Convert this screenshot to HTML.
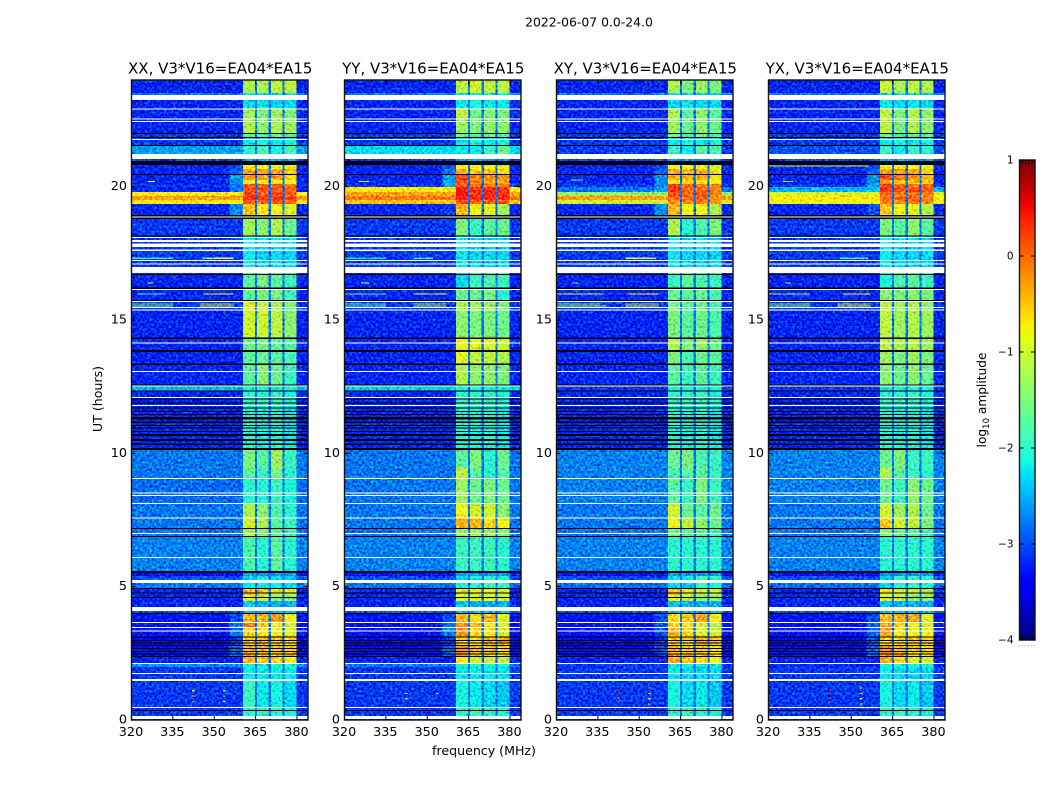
<!DOCTYPE html>
<html lang="en">
<head>
<meta charset="utf-8">
<title>2022-06-07 0.0-24.0</title>
<style>
html,body{margin:0;padding:0;background:#fff;width:1050px;height:800px;overflow:hidden}
svg{display:block}
text{font-family:"DejaVu Sans","Liberation Sans",sans-serif;fill:#000}
</style>
</head>
<body>
<svg id="fig" width="1050" height="800" viewBox="0 0 1050 800" xmlns="http://www.w3.org/2000/svg">
  <defs>
    <filter id="speckle" x="0" y="0" width="100%" height="100%" color-interpolation-filters="sRGB">
      <feTurbulence type="fractalNoise" baseFrequency="0.42" numOctaves="1" seed="7" result="n"/>
      <feColorMatrix in="n" type="matrix" values="0 0 0 0 0.5  1 0 0 0 0  0 1 0 0 0  0 0 0 0 1" result="m"/>
      <feComposite in="SourceGraphic" in2="m" operator="arithmetic" k1="0" k2="1" k3="1.3" k4="-0.65"/>
    </filter>
    <linearGradient id="jet-gradient" x1="0" y1="1" x2="0" y2="0"></linearGradient>
  </defs>
  <text x="589" y="26.5" text-anchor="middle" font-size="12.4">2022-06-07 0.0-24.0</text>
  <text x="484" y="755" text-anchor="middle" font-size="12.6">frequency (MHz)</text>
  <text transform="translate(102,399) rotate(-90)" text-anchor="middle" font-size="12.6">UT (hours)</text>
  <text transform="translate(986,400) rotate(-90)" text-anchor="middle" font-size="12.2">log<tspan font-size="8.5" dy="3">10</tspan><tspan dy="-3"> amplitude</tspan></text>
</svg>
<script>
// ---- Chart data (log10 amplitude) ----
const panelTitles = ["XX, V3*V16=EA04*EA15", "YY, V3*V16=EA04*EA15", "XY, V3*V16=EA04*EA15", "YX, V3*V16=EA04*EA15"];
const xTickValues = [320, 335, 350, 365, 380];
const yTickValues = [0, 5, 10, 15, 20];
const colorbarTicks = [1, 0, -1, -2, -3, -4];

// UT hour edges of the data rows, from the top of the plot downward
const utEdges = [24,23.51,23.25,22.95,22.58,22.01,21.86,21.53,21.23,20.96,20.66,20.44,20.25,20.10,19.99,19.80,19.65,19.50,19.35,18.94,18.79,18.15,16.76,16.24,15.68,15.34,14.36,13.88,13.35,12.53,12.34,12.11,11.81,10.13,9.45,9.08,8.14,7.58,7.20,6.90,5.59,5.40,5.14,4.95,4.69,4.46,4.09,3.98,3.64,3.45,3.15,2.81,2.36,2.10,1.99,1.46,0.45,0];

// Frequency edges (MHz): background, shoulder, sub-band 1, gap, 2, gap, 3, gap, 4, upper background
const freqEdges = [320,355.5,360.4,364.7,365.5,369.7,370.5,374.8,375.5,379.9,384];
// Which value in a row each frequency column reads: 0 bg, 1 shoulder, 2-5 sub-bands, 6 gap level
const freqColumnSource = [0,1,2,6,3,6,4,6,5,0];
const gapLevels = [-2.8,-2.8,-2.8,-2.8];

// Rows: [background, shoulder, band1, band2, band3, band4]
const ampXX = [
[-3.2,-3.2,-1.2,-1.2,-1.1,-1.1],[-2.8,-2.8,-2.3,-2.3,-2.3,-2.3],[-3.2,-3.2,-2.3,-2.2,-2.3,-2.3],[-3.2,-3.2,-1.3,-1.5,-1.3,-1.5],[-3.2,-3.2,-1.2,-1.4,-1.2,-1.3],[-3.1,-3.1,-1.6,-1.8,-1.6,-1.8],[-3.1,-3.1,-2.2,-2.1,-2.2,-2.1],[-2.6,-2.6,-2.0,-1.8,-2.1,-1.8],[-3.1,-3.1,-2.6,-2.6,-2.6,-2.6],[-3.2,-3.0,-0.8,-0.8,-0.8,-0.9],
[-3.2,-2.9,-0.3,-0.3,-0.3,-0.5],[-3.2,-2.6,-0.3,-0.3,-0.3,-0.6],[-3.2,-2.7,-0.7,-0.7,-0.7,-0.8],[-3.1,-2.8,0.1,0.1,0.1,-0.1],[-3.2,-2.8,0.1,0.1,0.1,0],[-0.7,-0.7,0.2,0.1,0.2,0.1],[-0.3,-0.3,0.3,0.2,0.3,0.2],[-0.7,-0.7,0.1,0,0.1,0],[-3.2,-2.7,-0.5,-0.7,-0.8,-0.9],[-3.2,-3.2,-1.3,-1.4,-1.2,-1.6],
[-3.1,-3.1,-1.3,-1.4,-1.2,-1.6],[-3.1,-3.1,-2.2,-2.3,-2.3,-2.3],[-3.2,-3.2,-1.7,-1.5,-1.7,-1.9],[-3.2,-3.2,-1.7,-1.5,-1.5,-1.9],[-3.1,-3.1,-0.9,-1.0,-1.2,-1.5],[-3.2,-3.2,-1.0,-1.0,-1.1,-1.4],[-3.2,-3.2,-1.6,-1.5,-1.6,-1.7],[-3.2,-3.2,-1.7,-1.6,-1.7,-1.8],[-3.2,-3.2,-1.7,-1.4,-1.6,-1.9],[-2.5,-2.5,-2.1,-2.1,-2.1,-2.1],
[-3.2,-3.2,-2.0,-2.0,-1.9,-2.1],[-3.2,-3.2,-1.9,-1.9,-1.9,-2.0],[-3.2,-3.2,-2.0,-2.1,-2.0,-2.2],[-2.8,-2.8,-1.5,-1.7,-1.3,-1.9],[-2.8,-2.8,-1.7,-1.9,-1.5,-2.0],[-2.85,-2.85,-2.0,-2.0,-1.9,-2.1],[-2.8,-2.8,-1.2,-1.4,-1.8,-2.0],[-2.8,-2.8,-1.0,-1.2,-1.7,-1.9],[-2.8,-2.8,-1.2,-1.4,-1.7,-1.9],[-2.75,-2.75,-1.8,-2.0,-1.7,-2.0],
[-3.3,-3.3,-2.6,-2.6,-2.6,-2.6],[-3.0,-3.0,-2.3,-2.1,-2.3,-2.4],[-2.8,-2.8,-2.2,-2.2,-2.2,-2.3],[-3.2,-3.2,-0.5,-0.5,-0.9,-1.0],[-3.2,-3.2,-0.9,-1.0,-1.4,-1.4],[-3.2,-3.2,-2.4,-2.5,-2.5,-2.5],[-3.0,-3.0,-2.5,-2.5,-2.5,-2.5],[-3.3,-3.0,-0.4,-0.4,-0.3,-0.8],[-3.3,-2.8,-0.1,-0.5,-0.7,-1.0],[-3.3,-2.8,-0.6,-0.7,-0.8,-0.9],
[-3.4,-3.1,-0.5,-0.4,-0.5,-0.6],[-3.4,-2.9,-0.4,-0.4,-0.5,-0.5],[-3.2,-3.2,-0.4,-0.5,-0.6,-0.8],[-2.7,-2.7,-2.1,-2.1,-2.1,-2.1],[-3.1,-3.1,-2.2,-2.2,-2.2,-2.2],[-3.1,-3.1,-1.9,-2.2,-2.1,-2.3],[-3.1,-3.1,-2.0,-1.9,-2.0,-2.1]
];
const ampYY = [
[-3.2,-3.2,-1.1,-1.0,-1.1,-1.1],[-2.8,-2.8,-2.2,-2.2,-2.2,-2.2],[-3.2,-3.2,-2.2,-2.1,-2.2,-2.2],[-3.2,-3.2,-1.1,-1.6,-1.5,-1.5],[-3.2,-3.2,-1.3,-1.5,-1.4,-1.4],[-3.1,-3.1,-1.6,-1.8,-1.6,-1.8],[-3.1,-3.1,-2.2,-2.1,-2.2,-2.1],[-2.3,-2.3,-2.2,-2.2,-1.9,-1.6],[-3.1,-3.1,-2.6,-2.6,-2.6,-2.6],[-3.2,-3.0,-0.8,-0.8,-0.8,-0.9],
[-3.2,-2.8,-0.4,-0.5,-0.5,-0.6],[-3.2,-2.6,0.2,-0.1,-0.2,-0.2],[-3.2,-2.6,0.1,-0.2,-0.3,-0.3],[-3.1,-2.6,0.1,0,-0.1,-0.1],[-0.7,-0.7,0.4,0.3,0.3,0.3],[-0.3,-0.3,0.5,0.3,0.4,0.3],[-0.1,-0.1,0.4,0.3,0.3,0.3],[-0.5,-0.5,0.2,0.1,0.1,0.1],[-3.2,-3.1,-0.4,-0.8,-0.9,-1.3],[-3.2,-3.2,-1.5,-1.9,-1.7,-1.6],
[-3.1,-3.1,-1.5,-1.9,-1.7,-1.6],[-3.1,-3.1,-2.2,-2.3,-2.3,-2.3],[-3.2,-3.2,-2.3,-1.9,-1.8,-1.9],[-3.2,-3.2,-1.6,-1.6,-1.5,-2.0],[-3.1,-3.1,-1.2,-1.3,-1.3,-1.5],[-3.2,-3.2,-1.4,-1.5,-1.5,-1.6],[-3.2,-3.2,-0.8,-0.9,-0.9,-1.0],[-3.2,-3.2,-0.9,-1.1,-1.1,-1.2],[-3.2,-3.2,-1.2,-1.4,-1.4,-1.5],[-2.4,-2.4,-2.1,-2.1,-2.1,-2.1],
[-3.2,-3.2,-2.0,-2.0,-1.9,-2.1],[-3.2,-3.2,-1.9,-1.9,-1.9,-2.0],[-3.2,-3.2,-2.0,-2.1,-2.0,-2.2],[-2.8,-2.8,-1.7,-1.5,-2.0,-1.6],[-2.8,-2.8,-1.1,-1.7,-2.0,-1.7],[-2.8,-2.8,-1.3,-1.6,-1.5,-1.6],[-2.8,-2.8,-0.8,-1.0,-1.0,-1.4],[-2.8,-2.8,-0.4,-0.4,-0.6,-0.8],[-2.8,-2.8,-1.3,-1.3,-1.3,-1.4],[-2.75,-2.75,-1.9,-1.9,-1.9,-2.0],
[-3.3,-3.3,-2.6,-2.6,-2.6,-2.6],[-3.0,-3.0,-2.3,-2.1,-2.0,-2.1],[-2.8,-2.8,-2.0,-2.0,-1.8,-1.9],[-3.2,-3.2,-0.9,-0.9,-0.9,-1.0],[-3.2,-3.2,-0.9,-0.9,-0.9,-1.0],[-3.2,-3.2,-2.4,-2.5,-2.5,-2.5],[-3.0,-3.0,-2.5,-2.5,-2.5,-2.5],[-3.3,-3.0,-0.4,-0.6,-0.4,-0.9],[-3.3,-2.8,-0.2,-0.5,-0.7,-0.9],[-3.3,-2.8,-0.2,-0.6,-0.8,-1.0],
[-3.4,-3.1,-0.6,-0.7,-0.4,-0.4],[-3.4,-2.9,-0.2,-0.4,-0.5,-0.6],[-3.2,-3.2,-0.7,-1.0,-1.0,-1.1],[-2.8,-2.8,-2.1,-2.1,-2.1,-2.1],[-3.1,-3.1,-2.2,-2.2,-2.2,-2.2],[-3.1,-3.1,-2.1,-2.2,-2.3,-2.4],[-3.1,-3.1,-2.0,-1.9,-2.0,-2.1]
];
const ampXY = [
[-3.2,-3.2,-1.2,-1.5,-1.3,-1.5],[-2.8,-2.8,-2.3,-2.3,-2.3,-2.3],[-3.2,-3.2,-2.3,-2.2,-2.3,-2.3],[-3.2,-3.2,-1.2,-1.7,-1.4,-1.7],[-3.2,-3.2,-1.3,-1.6,-1.4,-1.6],[-3.1,-3.1,-1.6,-1.8,-1.6,-1.8],[-3.1,-3.1,-2.2,-2.1,-2.2,-2.1],[-3.1,-3.1,-1.9,-2.2,-1.7,-1.8],[-3.1,-3.1,-2.6,-2.6,-2.6,-2.6],[-3.2,-3.0,-0.8,-0.8,-0.8,-1.0],
[-3.2,-2.9,-0.3,-0.4,-0.4,-0.6],[-3.2,-2.7,-0.4,-0.4,-0.4,-0.7],[-3.2,-2.7,-0.7,-0.6,-0.6,-0.8],[-3.1,-2.7,0.2,0,-0.1,-0.1],[-2.8,-2.6,0.3,0,0,-0.1],[-1.3,-1.3,0.2,0,0.1,-0.2],[-0.3,-0.3,0,0,0.05,-0.2],[-1.0,-1.0,-0.2,-0.2,-0.1,-0.2],[-3.2,-2.7,-0.4,-0.8,-0.8,-1.2],[-3.2,-3.2,-1.2,-2.0,-1.8,-1.5],
[-3.1,-3.1,-1.2,-2.0,-1.8,-1.5],[-3.1,-3.1,-2.2,-2.3,-2.3,-2.3],[-3.2,-3.2,-1.9,-1.7,-1.8,-1.9],[-3.2,-3.2,-1.6,-1.7,-1.6,-1.8],[-3.1,-3.1,-1.5,-1.7,-1.6,-1.8],[-3.2,-3.2,-1.5,-1.7,-1.6,-1.8],[-3.2,-3.2,-1.2,-1.5,-1.3,-1.6],[-3.2,-3.2,-1.5,-1.8,-1.6,-1.7],[-3.2,-3.2,-1.7,-1.9,-1.7,-1.9],[-3.1,-3.1,-2.1,-2.1,-2.1,-2.1],
[-3.2,-3.2,-2.0,-2.0,-1.9,-2.1],[-3.2,-3.2,-1.9,-1.9,-1.9,-2.0],[-3.2,-3.2,-2.0,-2.1,-2.0,-2.2],[-2.75,-2.75,-1.6,-1.5,-1.8,-1.9],[-2.75,-2.75,-1.8,-1.7,-1.7,-1.9],[-2.75,-2.75,-1.7,-1.9,-1.5,-1.9],[-2.8,-2.8,-1.0,-1.6,-1.7,-1.6],[-2.8,-2.8,-0.8,-1.1,-1.4,-1.6],[-2.8,-2.8,-1.5,-1.7,-1.7,-1.9],[-2.75,-2.75,-2.0,-2.0,-2.0,-2.0],
[-3.3,-3.3,-2.6,-2.6,-2.6,-2.6],[-3.0,-3.0,-2.3,-2.2,-1.8,-2.0],[-2.85,-2.85,-2.3,-2.4,-1.9,-2.1],[-3.2,-3.2,-0.5,-0.9,-1.0,-1.0],[-3.2,-3.2,-0.9,-1.1,-1.4,-1.4],[-3.2,-3.2,-2.4,-2.5,-2.5,-2.5],[-3.0,-3.0,-2.5,-2.5,-2.5,-2.5],[-3.3,-3.0,-0.6,-0.5,-0.3,-0.7],[-3.3,-3.0,-0.6,-0.7,-0.9,-1.1],[-3.3,-3.0,-0.4,-0.6,-0.9,-1.0],
[-3.4,-3.1,-0.6,-0.6,-0.4,-0.5],[-3.4,-3.0,-0.4,-0.5,-0.5,-0.7],[-3.2,-3.2,-0.3,-0.5,-0.6,-0.8],[-3.1,-3.1,-2.2,-2.2,-2.2,-2.2],[-3.1,-3.1,-2.2,-2.3,-2.3,-2.3],[-3.1,-3.1,-2.1,-2.3,-2.2,-2.4],[-3.1,-3.1,-2.0,-1.9,-2.0,-2.1]
];
const ampYX = [
[-3.2,-3.2,-1.0,-1.2,-1.1,-1.2],[-2.8,-2.8,-2.3,-2.3,-2.3,-2.3],[-3.2,-3.2,-2.2,-2.3,-2.2,-2.3],[-3.2,-3.2,-1.1,-1.5,-1.2,-1.4],[-3.2,-3.2,-1.1,-1.5,-1.2,-1.4],[-3.1,-3.1,-1.6,-1.8,-1.6,-1.8],[-3.1,-3.1,-2.2,-2.1,-2.2,-2.1],[-3.0,-3.0,-1.9,-2.2,-1.9,-2.0],[-3.1,-3.1,-2.6,-2.6,-2.6,-2.6],[-3.2,-3.0,-0.8,-0.8,-0.8,-0.9],
[-3.2,-2.9,-0.3,-0.3,-0.3,-0.6],[-3.2,-2.7,0.1,-0.1,-0.2,-0.4],[-3.2,-2.7,-0.3,-0.5,-0.5,-0.6],[-3.1,-2.6,0.2,0,0,0],[-2.5,-2.4,0.3,0.1,0.1,0.1],[-0.9,-0.9,0,-0.1,0,-0.1],[-0.7,-0.7,0,0,0,-0.1],[-0.8,-0.8,-0.1,-0.2,-0.1,-0.2],[-3.2,-3.0,-0.5,-0.8,-0.9,-1.2],[-3.2,-3.2,-1.5,-1.7,-1.4,-1.7],
[-3.1,-3.1,-1.5,-1.7,-1.4,-1.7],[-3.1,-3.1,-2.2,-2.3,-2.3,-2.3],[-3.2,-3.2,-2.1,-1.8,-1.7,-1.9],[-3.2,-3.2,-1.4,-1.5,-1.4,-1.5],[-3.1,-3.1,-1.1,-1.3,-1.2,-1.4],[-3.2,-3.2,-1.1,-1.3,-1.2,-1.3],[-3.2,-3.2,-1.1,-1.2,-1.1,-1.3],[-3.2,-3.2,-1.3,-1.5,-1.3,-1.5],[-3.2,-3.2,-1.4,-1.6,-1.4,-1.6],[-3.1,-3.1,-2.1,-2.1,-2.1,-2.1],
[-3.2,-3.2,-2.0,-2.0,-1.9,-2.1],[-3.2,-3.2,-1.9,-1.9,-1.9,-2.0],[-3.2,-3.2,-2.0,-2.1,-2.0,-2.2],[-2.75,-2.75,-1.6,-1.5,-1.9,-1.9],[-2.75,-2.75,-1.2,-1.7,-1.9,-2.0],[-2.75,-2.75,-1.6,-1.9,-1.4,-1.6],[-2.8,-2.8,-1.0,-1.3,-1.2,-1.6],[-2.8,-2.8,-0.5,-1.0,-1.1,-1.5],[-2.8,-2.8,-1.4,-1.6,-1.7,-1.9],[-2.75,-2.75,-2.0,-2.0,-2.0,-2.0],
[-3.3,-3.3,-2.6,-2.6,-2.6,-2.6],[-3.0,-3.0,-2.4,-2.0,-1.9,-2.0],[-2.85,-2.85,-2.4,-2.0,-1.9,-2.0],[-3.2,-3.2,-0.8,-1.0,-1.1,-1.2],[-3.2,-3.2,-0.9,-1.0,-1.4,-1.4],[-3.2,-3.2,-2.4,-2.5,-2.5,-2.5],[-3.0,-3.0,-2.5,-2.5,-2.5,-2.5],[-3.3,-3.0,-0.5,-0.4,-0.3,-0.9],[-3.3,-2.9,-0.3,-0.6,-0.8,-1.0],[-3.3,-2.9,-0.3,-0.7,-0.8,-0.8],
[-3.4,-3.0,-0.6,-0.6,-0.5,-0.6],[-3.4,-2.9,-0.2,-0.4,-0.5,-0.6],[-3.2,-3.2,-0.4,-0.6,-0.9,-1.0],[-3.2,-3.2,-2.1,-2.1,-2.1,-2.1],[-3.1,-3.1,-2.2,-2.3,-2.3,-2.3],[-3.1,-3.1,-2.1,-2.3,-2.2,-2.4],[-3.1,-3.1,-2.0,-1.9,-2.0,-2.1]
];
const panelAmps = [ampXX, ampYY, ampXY, ampYX];

// Narrow RFI features: [startMHz, endMHz, UT hour, log10 amplitude]
const rfiXX = [[326,328.5,20.2,-0.8],[320,335,17.32,-2.0],[346,350,17.32,-1.4],[350,357,17.32,-0.8],[326,328,16.39,-0.8],[322,332,15.98,-2.0],[346,357,15.98,-0.8],[320,335,15.6,-2.0],[320,335,15.53,-1.2],[345,357,15.6,-1.3],[345,357,15.53,-0.6],[353,353.8,23.75,0.5],[353,353.8,23.6,0.6],[342,342.8,1.1,-0.6],[342,342.8,0.9,-0.5],[342,342.8,0.7,-0.4],[353.2,354,1.1,-1.2],[353.2,354,0.9,-0.5],[353.2,354,0.7,-0.8]];
const rfiYY = [[325,329,20.2,-1.1],[320,335,17.32,-2.2],[345,352,17.32,-1.9],[326,329,16.39,-1.0],[320,335,15.98,-1.6],[345,357,15.98,-0.8],[320,335,15.6,-2.0],[320,335,15.53,-1.6],[345,357,15.6,-1.5],[345,357,15.53,-1.0],[342,342.8,1.0,-1.2],[342,342.8,0.8,-1.0],[353.2,354,1.0,-1.5]];
const rfiXY = [[325,329.5,20.25,-1.3],[320,337,15.98,-1.0],[346,357,15.98,-0.7],[326,328,16.39,-1.0],[320,336,15.6,-1.8],[320,338,15.53,-1.0],[345,357,15.6,-1.5],[345,357,15.53,-0.7],[345,356,17.32,-0.9],[353,353.8,23.7,0.4],[342,342.8,1.15,0.2],[342,342.8,1.0,0.4],[342,342.8,0.85,0.2],[342,342.8,0.7,0.3],[353.2,354,1.2,-0.6],[353.2,354,1.0,-0.6],[353.2,354,0.8,-0.8],[353.2,354,0.6,-0.6]];
const rfiYX = [[325,329,20.2,-1.0],[320,356,20.78,-1.2],[320,335,15.98,-1.4],[347,357,15.98,-0.7],[326,328,16.39,-1.0],[320,335,15.6,-1.8],[320,335,15.53,-1.2],[345,357,15.6,-1.3],[345,357,15.53,-0.7],[346,356,17.32,-1.9],[353,353.8,23.7,0.4],[342,342.8,1.15,0.3],[342,342.8,1.0,0.5],[342,342.8,0.85,0.5],[342,342.8,0.7,0.2],[353.2,354,1.2,-0.9],[353.2,354,1.0,-0.5],[353.2,354,0.8,-0.7],[353.2,354,0.6,-1.0]];
const panelRfi = [rfiXX, rfiYY, rfiXY, rfiYX];

// Flagged time ranges, [startUT, endUT]; these are common to all four panels
const flaggedWhite = [[23.25,23.44],[22.90,22.94],[22.52,22.56],[22.42,22.46],[21.75,21.79],[21.04,21.23],[18.84,18.88],[18.08,18.11],[17.93,18.00],[17.74,17.87],[17.59,17.64],[17.21,17.25],[17.08,17.12],[16.76,16.99],[16.13,16.16],[15.68,15.71],[15.45,15.49],[15.36,15.39],[14.13,14.16],[13.05,13.09],[12.51,12.54],[12.08,12.11],[11.78,11.81],[9.04,9.08],[8.49,8.53],[8.40,8.44],[8.10,8.14],[7.56,7.59],[6.98,7.01],[6.08,6.11],[5.14,5.25],[4.09,4.24],[3.64,3.68],[3.45,3.49],[3.32,3.36],[2.10,2.14],[1.73,1.76],[1.46,1.53],[0.45,0.49],[0.04,0.15]];
const flaggedBlack = [[21.98,22.01],[21.83,21.86],[21.53,21.56],[20.81,20.96],[20.44,20.48],[18.88,18.94],[18.79,18.84],[18.13,18.17],[16.69,16.73],[16.16,16.22],[15.71,15.75],[14.29,14.34],[13.80,13.88],[13.31,13.37],[12.54,12.58],[12.32,12.36],[12.02,12.06],[11.87,11.91],[11.68,11.72],[11.55,11.59],[11.44,11.48],[11.27,11.36],[11.14,11.19],[11.03,11.06],[10.93,10.97],[10.80,10.84],[10.65,10.73],[10.46,10.54],[10.31,10.37],[10.13,10.20],[7.16,7.20],[6.86,6.90],[5.51,5.59],[4.91,4.95],[4.74,4.78],[4.58,4.61],[3.98,4.01],[3.09,3.13],[2.96,3.00],[2.87,2.91],[2.78,2.81],[2.66,2.70],[2.55,2.59],[2.46,2.49],[2.36,2.40],[0.34,0.38]];

// ---- Layout and scales ----
const SVGNS = "http://www.w3.org/2000/svg";
const fig = document.getElementById("fig");
const panelLefts = [131.5, 344.5, 556.5, 768.5];
const panelWidth = 176.5;
const plotTop = 80, plotBottom = 720;
const freqMin = 320, freqMax = 384, utMax = 24;
const cbarLeft = 1019.5, cbarRight = 1035, cbarTop = 160, cbarBottom = 640;
const cbarMin = -4, cbarMax = 1;

function xScale(panelIndex, mhz) { return panelLefts[panelIndex] + (mhz - freqMin) / (freqMax - freqMin) * panelWidth; }
function yScale(ut) { return plotBottom - ut / utMax * (plotBottom - plotTop); }
function cbarScale(v) { return cbarBottom - (v - cbarMin) / (cbarMax - cbarMin) * (cbarBottom - cbarTop); }

function ramp(pts, t) {
  if (t <= pts[0][0]) return pts[0][1];
  for (let i = 1; i < pts.length; i++) {
    if (t <= pts[i][0]) {
      const a = pts[i - 1], b = pts[i];
      return a[1] + (b[1] - a[1]) * (t - a[0]) / (b[0] - a[0]);
    }
  }
  return pts[pts.length - 1][1];
}
const jetR = [[0,0],[0.35,0],[0.66,1],[0.89,1],[1,0.5]];
const jetG = [[0,0],[0.125,0],[0.375,1],[0.64,1],[0.91,0],[1,0]];
const jetB = [[0,0.5],[0.11,1],[0.34,1],[0.65,0],[1,0]];
function jet(t) {
  const c = v => Math.round(255 * v);
  return "rgb(" + c(ramp(jetR, t)) + "," + c(ramp(jetG, t)) + "," + c(ramp(jetB, t)) + ")";
}
function colorOf(v) { return jet((v - cbarMin) / (cbarMax - cbarMin)); }

function mk(tag, attrs, parent) {
  const el = document.createElementNS(SVGNS, tag);
  for (const k in attrs) el.setAttribute(k, attrs[k]);
  (parent || fig).appendChild(el);
  return el;
}

// ---- Panels ----
panelTitles.forEach(function (title, p) {
  const left = panelLefts[p], right = left + panelWidth;
  const panel = mk("g", {});
  
  

  const titleEl = mk("text", { x: (left + right) / 2 + 0.5, y: 73.5, "text-anchor": "middle", "font-size": 15 }, panel);
  titleEl.textContent = title;
  
  

  const heat = mk("g", { filter: "url(#speckle)", "shape-rendering": "crispEdges" }, panel);
  
  

  panelAmps[p].forEach(function (row, r) {
    const yA = yScale(utEdges[r]), yB = yScale(utEdges[r + 1]);
    freqColumnSource.forEach(function (src, c) {
      const xA = xScale(p, freqEdges[c]), xB = xScale(p, freqEdges[c + 1]);
      const value = src === 6 ? gapLevels[p] : row[src];
      const cell = mk("rect", { x: xA, y: yA, width: xB - xA, height: yB - yA, fill: colorOf(value) }, heat);
      
      
    });
  });

  panelRfi[p].forEach(function (s) {
    const xA = xScale(p, s[0]), xB = xScale(p, s[1]);
    const speck = mk("rect", { x: xA, y: yScale(s[2]) - 0.5, width: xB - xA, height: 1.2, fill: colorOf(s[3]) }, heat);
    
    
  });

  const flags = mk("g", { "shape-rendering": "crispEdges" }, panel);
  
  
  flaggedWhite.forEach(function (f) {
    const yA = yScale(f[1]), yB = yScale(f[0]);
    const bar = mk("rect", { x: left, y: yA, width: panelWidth, height: Math.max(1, yB - yA), fill: "#fff" }, flags);
    
    
  });
  flaggedBlack.forEach(function (f) {
    const yA = yScale(f[1]), yB = yScale(f[0]);
    const bar = mk("rect", { x: left, y: yA, width: panelWidth, height: Math.max(1, yB - yA), fill: "#000" }, flags);
    
    
  });

  const frame = mk("rect", { x: left, y: plotTop, width: panelWidth, height: plotBottom - plotTop, fill: "none", stroke: "#111", "stroke-width": 1.4 }, panel);
  
  

  xTickValues.forEach(function (v) {
    const x = xScale(p, v);
    const tickB = mk("line", { x1: x, x2: x, y1: plotBottom, y2: plotBottom - 4, stroke: "#000", "stroke-width": 1 }, panel);
    
    
    const tickT = mk("line", { x1: x, x2: x, y1: plotTop, y2: plotTop + 4, stroke: "#000", "stroke-width": 1 }, panel);
    
    
    const label = mk("text", { x: x - 0.5, y: 736, "text-anchor": "middle", "font-size": 12.8 }, panel);
    label.textContent = v;
    
    
  });
  yTickValues.forEach(function (v) {
    const y = yScale(v);
    const tickL = mk("line", { x1: left, x2: left + 4, y1: y, y2: y, stroke: "#000", "stroke-width": 1 }, panel);
    
    
    const tickR = mk("line", { x1: right, x2: right - 4, y1: y, y2: y, stroke: "#000", "stroke-width": 1 }, panel);
    
    
    const label = mk("text", { x: left - 4.5, y: y + 3.5, "text-anchor": "end", "font-size": 12.8 }, panel);
    label.textContent = v;
    
    
  });
});

// ---- Colorbar ----
const gradient = document.getElementById("jet-gradient");
for (let i = 0; i <= 40; i++) {
  mk("stop", { offset: (i / 40 * 100) + "%", "stop-color": jet(i / 40) }, gradient);
}
const cbar = mk("g", {});


const cbarRect = mk("rect", { x: cbarLeft, y: cbarTop, width: cbarRight - cbarLeft, height: cbarBottom - cbarTop, fill: "url(#jet-gradient)", stroke: "#111", "stroke-width": 1.4 }, cbar);


colorbarTicks.forEach(function (v) {
  const y = cbarScale(v);
  const tickL = mk("line", { x1: cbarLeft, x2: cbarLeft + 4, y1: y, y2: y, stroke: "#000", "stroke-width": 1 }, cbar);
  
  
  const tickR = mk("line", { x1: cbarRight, x2: cbarRight - 4, y1: y, y2: y, stroke: "#000", "stroke-width": 1 }, cbar);
  
  
  const label = mk("text", { x: 1013.5, y: y + 3.5, "text-anchor": "end", "font-size": 10.5 }, cbar);
  label.textContent = v < 0 ? "\u2212" + Math.abs(v) : String(v);
  
  
});
[0.2, 0.4, 0.6, 0.8].forEach(function (frac) {
  const x = cbarLeft + frac * (cbarRight - cbarLeft);
  const tickT = mk("line", { x1: x, x2: x, y1: cbarTop, y2: cbarTop + 4, stroke: "#000", "stroke-width": 1 }, cbar);
  
  
  const tickB = mk("line", { x1: x, x2: x, y1: cbarBottom, y2: cbarBottom - 4, stroke: "#000", "stroke-width": 1 }, cbar);
  
  
});
[0, 0.2, 0.4, 0.6, 0.8, 1].forEach(function (frac) {
  const dot = mk("rect", { x: cbarLeft - 1 + frac * (cbarRight - cbarLeft), y: 645.5, width: 1, height: 1, fill: "#999" }, cbar);
  
  
});
</script>
</body>
</html>
